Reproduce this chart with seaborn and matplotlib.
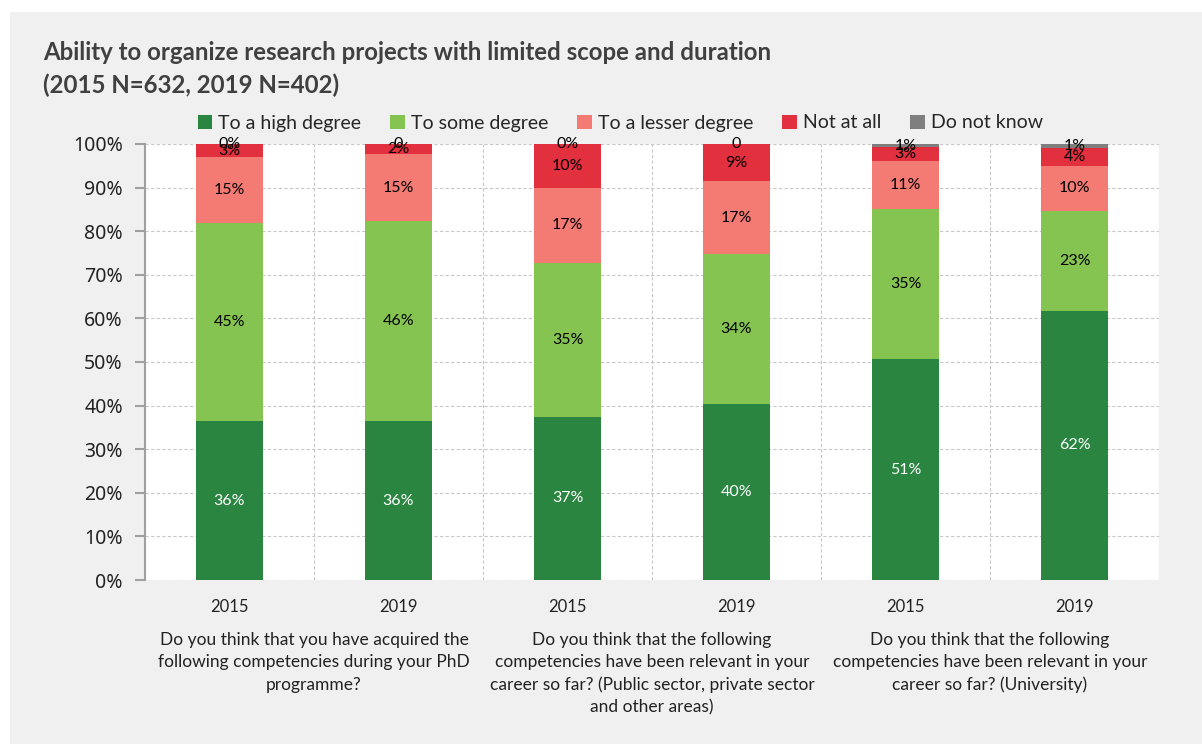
import numpy as np
import pandas as pd
import matplotlib
matplotlib.use('Agg')
import matplotlib.pyplot as plt
import matplotlib.transforms as mtransforms
from matplotlib.patches import Patch, Rectangle
import seaborn as sns

sns.set_theme(style='white')
plt.rcParams['font.family'] = ['Lato', 'DejaVu Sans']

# ── data ───────────────────────────────────────────────────────────────────────
years = ['2015', '2019', '2015', '2019', '2015', '2019']
groups = [
    'Do you think that you have acquired the\nfollowing competencies during your PhD\nprogramme?',
    'Do you think that the following\ncompetencies have been relevant in your\ncareer so far? (Public sector, private sector\nand other areas)',
    'Do you think that the following\ncompetencies have been relevant in your\ncareer so far? (University)',
]
series = ['To a high degree', 'To some degree', 'To a lesser degree', 'Not at all', 'Do not know']
high = [36.4, 36.4, 37.4, 40.4, 50.6, 61.8]
some = [45.4, 45.9, 35.4, 34.4, 34.6, 22.8]
lesser = [15.2, 15.4, 17.1, 16.6, 10.9, 10.4]
not_at_all = [3.0, 2.3, 10.1, 8.6, 3.1, 4.0]
dont_know = [0.0, 0.0, 0.0, 0.0, 0.8, 1.0]
dont_know_labels = ['0%', '0', '0%', '0', '1%', '1%']
colors = ['#2a8541', '#86c452', '#f47b74', '#e3303f', '#7f7f80']

bar_ids = [f'{i}_{y}' for i, y in enumerate(years)]
df = pd.DataFrame({'bar': bar_ids, 'high': high, 'some': some, 'lesser': lesser,
                   'not_at_all': not_at_all, 'dont_know': dont_know})
cols = ['high', 'some', 'lesser', 'not_at_all', 'dont_know']
cum = df[cols].cumsum(axis=1)

# ── figure ─────────────────────────────────────────────────────────────────────
fig = plt.figure(figsize=(12.02, 7.44), dpi=100, facecolor='white')
fig.patches.append(Rectangle((10 / 1202, 0), 1, 1 - 12 / 744, transform=fig.transFigure,
                             facecolor='#f0f0f0', edgecolor='none', zorder=-10))
ax = fig.add_axes([145 / 1202, 1 - 580 / 744, (1159 - 145) / 1202, (580 - 144) / 744])
ax.set_facecolor('white')

# stacked bars: draw cumulative totals from the top layer down
for i in reversed(range(len(cols))):
    plot_df = pd.DataFrame({'bar': bar_ids, 'val': cum[cols[i]].values})
    sns.barplot(data=plot_df, x='bar', y='val', order=bar_ids, color=colors[i],
                saturation=1, width=0.4, errorbar=None, linewidth=0, ax=ax, zorder=3)

# data labels
for j in range(len(bar_ids)):
    bottom = 0
    for i, c in enumerate(cols):
        v = df.loc[j, c]
        if c == 'dont_know':
            txt = dont_know_labels[j]
        else:
            txt = f'{round(v)}%'
        ax.text(j, bottom + v / 2, txt, ha='center', va='center', fontsize=11.5,
                color='white' if i == 0 else 'black', zorder=5)
        bottom += v

# axes styling
ax.set_xlim(-0.5, len(bar_ids) - 0.5)
ax.set_ylim(0, 100)
ax.set_yticks(np.arange(0, 101, 10))
ax.set_yticklabels([f'{t}%' for t in range(0, 101, 10)], fontsize=14,
                   family=['Noto Sans', 'DejaVu Sans'], color='#222222')
ax.set_xticks(range(len(bar_ids)))
ax.set_xticklabels(years, fontsize=12, color='#222222')
ax.tick_params(axis='x', length=0, pad=14)
ax.tick_params(axis='y', length=7, width=1.5, color='#a0a0a0', pad=9, left=True)
ax.set_xlabel('')
ax.set_ylabel('')
for s in ['top', 'right', 'bottom']:
    ax.spines[s].set_visible(False)
ax.spines['left'].set_color('#a0a0a0')
ax.spines['left'].set_linewidth(1.5)

for t in range(0, 101, 10):
    ax.axhline(t, color='#c8c8c8', linestyle=(0, (3, 2)), linewidth=0.8, zorder=1)
for x in np.arange(0.5, len(bar_ids), 1):
    ax.axvline(x, color='#c8c8c8', linestyle=(0, (3, 2)), linewidth=0.8, zorder=1)

# group labels under the years
trans = mtransforms.blended_transform_factory(ax.transData, ax.transAxes)
for g, label in enumerate(groups):
    ax.text(2 * g + 0.5, -0.12, label, transform=trans, ha='center', va='top',
            fontsize=12.5, color='#222222', linespacing=1.47)

# legend
handles = [Patch(facecolor=c, edgecolor='none') for c in colors]
fig.legend(handles, series, loc='center', bbox_to_anchor=(0.516, 1 - 123 / 744), ncol=5,
           frameon=False, fontsize=14, handlelength=0.75, handleheight=0.75,
           handletextpad=0.3, columnspacing=1.5)

# title
fig.text(43 / 1202, 1 - 52 / 744, 'Ability to organize research projects with limited scope and duration',
         fontsize=17.25, fontweight='bold', color='#404040', va='center', ha='left')
fig.text(43 / 1202, 1 - 85 / 744, '(2015 N=632, 2019 N=402)',
         fontsize=17.25, fontweight='bold', color='#404040', va='center', ha='left')

plt.savefig('out.png', dpi=100, facecolor=fig.get_facecolor())
plt.close()
